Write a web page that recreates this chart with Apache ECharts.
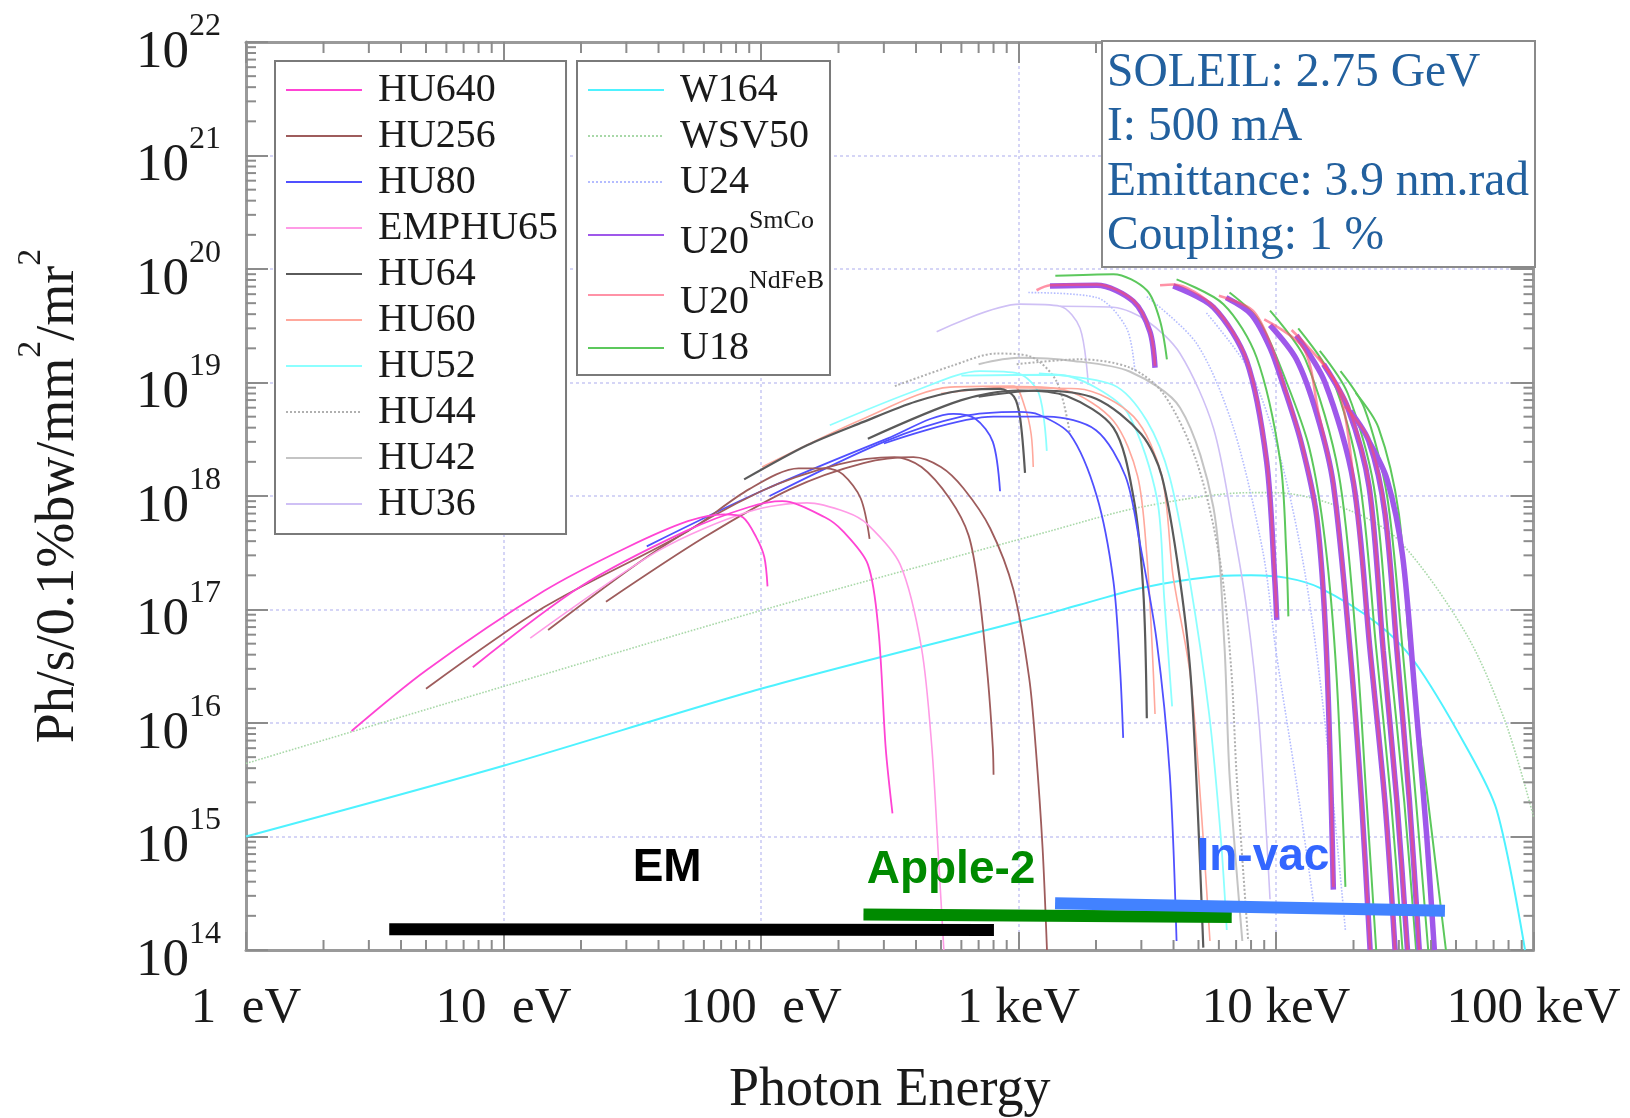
<!DOCTYPE html>
<html>
<head>
<meta charset="utf-8">
<title>SOLEIL insertion devices</title>
<script src="https://cdn.jsdelivr.net/npm/echarts@6.0.0/dist/echarts.min.js"></script>
<style>
html, body { margin: 0; padding: 0; background: #fff; }
#chart { width: 1630px; height: 1118px; }
</style>
</head>
<body>
<div id="chart"></div>
<script>
// photon energy (eV) vs brilliance (ph/s/0.1%bw/mm2/mr2), one list per harmonic
var hu640 = [
    [[2.57, 8.5e15], [5, 2.9e16], [14.4, 1.46e17], [30, 3.5e17], [52, 6.0e17], [72, 6.9e17], [85, 6.5e17], [96, 4.3e17], [103, 2.9e17], [106, 1.6e17]],
    [[7.6, 3.1e16], [20, 1.6e17], [51, 4.9e17], [90, 8.0e17], [121, 9.0e17], [177, 6.5e17], [208, 4.9e17], [260, 2.5e17], [286, 6.5e16], [305, 6e15], [324, 1.6e15]]
];
var emphu65 = [
    [[12.7, 5.6e16], [40, 3.3e17], [90, 7.3e17], [151, 8.7e17], [215, 7.2e17], [260, 5.6e17], [347, 2.5e17], [420, 4.6e16], [461, 6e15], [490, 6e14], [513, 1e14]]
];
var hu256 = [
    [[5.0, 2.0e16], [14.4, 1.05e17], [52, 4.9e17], [90, 1.15e18], [140, 1.75e18], [180, 1.75e18], [208, 1.55e18], [244, 9.5e17], [264, 4.2e17]],
    [[14.9, 6.6e16], [40, 3.4e17], [100, 1.1e18], [200, 1.9e18], [330, 2.2e18], [420, 1.8e18], [540, 9.5e17], [640, 4.5e17], [700, 1.5e17], [760, 2.5e16], [795, 6e15], [800, 3.5e15]],
    [[25, 1.17e17], [60, 4.3e17], [130, 1.15e18], [250, 1.95e18], [391, 2.2e18], [500, 1.8e18], [611, 1.17e18], [776, 5.2e17], [955, 1.5e17], [1100, 2.5e16], [1167, 6e15], [1240, 8e14], [1290, 1e14]]
];
var hu80 = [
    [[36, 3.6e17], [100, 1.1e18], [309, 3.2e18], [558, 5.3e18], [680, 4.8e18], [795, 3.0e18], [848, 1.1e18]],
    [[108, 1.0e18], [300, 3.0e18], [600, 5.0e18], [1000, 5.5e18], [1200, 5.2e18], [1585, 3.5e18], [2013, 1.0e18], [2335, 1.8e17], [2480, 3e16], [2550, 7.4e15]],
    [[300, 2.9e18], [800, 5.0e18], [1300, 5.0e18], [2000, 3.8e18], [2600, 1.5e18], [2950, 4e17], [3440, 5.3e16], [3870, 3.5e15], [4110, 1.2e14]]
];
var hu64 = [
    [[86, 1.4e18], [151, 2.8e18], [250, 4.5e18], [400, 6.8e18], [600, 8.5e18], [850, 8.8e18], [960, 7.5e18], [1014, 4.9e18], [1060, 1.6e18]],
    [[260, 3.2e18], [600, 7.0e18], [1000, 8.5e18], [1538, 7.6e18], [2335, 4.0e18], [2790, 1.0e18], [3050, 1.5e17], [3150, 1.1e16]],
    [[700, 7.5e18], [1200, 8.5e18], [2000, 7.2e18], [3000, 3.5e18], [3600, 1.5e18], [4240, 1.8e17], [4700, 2e16], [5220, 1.05e14]]
];
var hu60 = [
    [[101, 1.8e18], [250, 4.8e18], [542, 9.1e18], [955, 9.3e18], [1060, 6.0e18], [1120, 3.5e18], [1141, 1.8e18]],
    [[500, 8.0e18], [1000, 9.2e18], [1538, 8.5e18], [2335, 4.6e18], [2900, 1.5e18], [3150, 3e17], [3300, 5e16], [3390, 1.2e16]],
    [[800, 9.0e18], [1700, 8.8e18], [2800, 5.0e18], [3600, 1.5e18], [3980, 2.0e17], [4640, 2.7e16], [5100, 2e15], [5540, 1.2e14]]
];
var hu52 = [
    [[185, 4.2e18], [400, 8.5e18], [708, 1.26e19], [1000, 1.2e19], [1200, 8e18], [1288, 2.5e18]],
    [[600, 1.15e19], [1410, 1.17e19], [2000, 9e18], [2680, 5.2e18], [3450, 9.5e17], [3680, 1.26e17], [3950, 1.4e16]],
    [[1200, 1.2e19], [2335, 9.5e18], [3150, 4.6e18], [3870, 1.45e18], [4630, 1.78e17], [5500, 1.2e16], [6100, 1e15], [6440, 1.5e14]]
];
var hu44 = [
    [[331, 9.3e18], [550, 1.4e19], [822, 1.8e19], [1108, 1.7e19], [1406, 1.02e19], [1585, 3.5e18]],
    [[984, 1.45e19], [1734, 1.6e19], [2710, 1.35e19], [3650, 8e18], [4920, 2.0e18], [6060, 2.7e17], [6700, 3e16], [7030, 3.5e15], [7800, 1.2e14]]
];
var hu42 = [
    [[700, 1.45e19], [1000, 1.65e19], [1633, 1.55e19], [2700, 1.25e19], [4240, 6.0e18], [5710, 8e17], [6300, 5e16], [6600, 3.5e15], [7400, 1.2e14]]
];
var hu36 = [
    [[481, 2.8e19], [1014, 4.9e19], [1450, 4.7e19], [1734, 3.0e19], [1867, 9.5e18]],
    [[1450, 4.7e19], [2335, 4.6e19], [3150, 3.5e19], [4240, 1.8e19], [5710, 4e18], [6830, 5.2e17], [7700, 1.0e17], [8600, 1.0e16], [9480, 2.8e14]]
];
var w164 = [
    [[1, 1.0e15], [10, 4.2e15], [100, 2.0e16], [1000, 7.8e16], [1730, 1.1e17], [3000, 1.55e17], [5710, 1.95e17], [8000, 2.0e17], [11000, 1.9e17], [14800, 1.55e17], [24600, 7.6e16], [34400, 3.5e16], [54500, 6.3e15], [72000, 1.7e15], [92700, 1e14]]
];
var wsv50 = [
    [[1, 4.4e15], [10, 2.1e16], [100, 9.8e16], [1320, 4.9e17], [3000, 8e17], [7900, 1.07e18], [10000, 1.07e18], [19500, 7.4e17], [30200, 4e17], [55000, 6e16], [78000, 1.0e16], [100000, 1.5e15]]
];
var u24 = [
    [[1092, 6.2e19], [2013, 5.6e19], [2630, 3.0e19], [2830, 1.26e19]],
    [[3150, 5.7e19], [4920, 2.2e19], [6830, 4e18], [8900, 3.2e17], [10000, 4.3e16], [12000, 3e15], [13960, 2.7e14]],
    [[5370, 4.1e19], [8000, 1.2e19], [10500, 2e18], [13000, 2e17], [15500, 1e16], [18600, 1.5e14]]
];
var u20SmCo = [
    [[1325, 7.1e19], [2013, 7.2e19], [2790, 5.2e19], [3240, 2.8e19], [3390, 1.35e19]],
    [[3990, 7.1e19], [5710, 4.6e19], [7690, 1.55e19], [9200, 2.0e18], [9900, 1.78e17], [10070, 8.1e16]],
    [[6400, 5.6e19], [8000, 4.0e19], [9500, 2.0e19], [10670, 9.5e18], [12500, 3.0e18], [14400, 6.5e17], [15700, 4.3e16], [16700, 3.4e14]],
    [[9480, 3.2e19], [12000, 1.6e19], [14500, 5e18], [16700, 1.26e18], [19400, 4.3e16], [21500, 2e15], [23200, 1e14]],
    [[12000, 2.6e19], [15500, 1.0e19], [20000, 1.3e18], [23200, 4.3e16], [26500, 2e15], [29000, 1e14]],
    [[15300, 1.45e19], [19000, 6e18], [23000, 1.2e18], [26100, 4.3e16], [29500, 2e15], [32400, 1e14]],
    [[19400, 5.6e18], [23000, 3e18], [26500, 7e17], [29500, 4.3e16], [33000, 2e15], [36000, 1e14]],
    [[23000, 3.0e18], [27000, 1.4e18], [31000, 3e17], [34500, 2e16], [38500, 1e15], [41200, 1e14]]
];
var u20NdFeB = [
    [[1175, 6.5e19], [1325, 7.2e19], [2013, 7.3e19], [2790, 5.3e19], [3240, 2.85e19], [3390, 1.4e19]],
    [[3545, 7.2e19], [3990, 7.3e19], [5710, 4.7e19], [7690, 1.6e19], [9200, 2.1e18], [9900, 1.85e17], [10070, 8.5e16]],
    [[6000, 5.8e19], [8130, 4.3e19], [9600, 2.1e19], [10670, 1.0e19], [12500, 3.1e18], [14400, 6.7e17], [15700, 4.5e16], [16700, 3.6e14]],
    [[9000, 3.6e19], [12800, 2.0e19], [14600, 5.5e18], [16700, 1.3e18], [19400, 4.5e16], [21500, 2e15], [23200, 1e14]],
    [[11500, 2.9e19], [17200, 9.5e18], [20000, 1.4e18], [23200, 4.5e16], [26500, 2e15], [29000, 1e14]],
    [[14600, 1.7e19], [19000, 6.3e18], [23000, 1.25e18], [26100, 4.5e16], [29500, 2e15], [32400, 1e14]],
    [[18500, 6.2e18], [23000, 3.1e18], [26500, 7.3e17], [29500, 4.5e16], [33000, 2e15], [36000, 1e14]]
];
var u18 = [
    [[1390, 8.7e19], [2335, 9.0e19], [3150, 6.5e19], [3545, 3.5e19], [3770, 1.6e19]],
    [[4110, 8.1e19], [6250, 4.9e19], [8410, 1.66e19], [10400, 2.0e18], [10960, 3.2e17], [11170, 8.7e16]],
    [[6600, 6.2e19], [8600, 3.5e19], [11000, 1.0e19], [13500, 2.6e18], [15500, 4e17], [17200, 2.5e16], [18600, 3.6e14]],
    [[9480, 4.3e19], [13000, 1.6e19], [17500, 1.6e18], [20500, 5e16], [22500, 2e15], [24500, 1e14]],
    [[12200, 3.0e19], [16500, 1.1e19], [21000, 1.5e18], [24500, 4.5e16], [28000, 2e15], [31000, 1e14]],
    [[14800, 1.9e19], [19000, 8e18], [24000, 1.2e18], [27500, 4.5e16], [31500, 2e15], [35000, 1e14]],
    [[17800, 1.26e19], [22000, 6e18], [27000, 1e18], [31000, 4.5e16], [35000, 2e15], [39000, 1e14]],
    [[20400, 8.1e18], [25000, 4e18], [30000, 7e17], [33100, 4.3e16], [39000, 2e15], [45700, 1e14]]
];

// operating ranges of the three families of insertion devices
var emRange = [[3.6, 1.52e14], [803, 1.5e14]];
var appleRange = [[250, 2.05e14], [6730, 1.95e14]];
var invacRange = [[1387, 2.58e14], [45300, 2.22e14]];
var rangeNames = ['EM', 'Apple-2', 'In-vac'];
var rangeNameAt = [[43.2, 5.2e14], [547, 5.0e14], [8900, 6.5e14]];

var xTickText = ['1  eV', '10  eV', '100  eV', '1 keV', '10 keV', '100 keV'];
var legendLeft = ['HU640', 'HU256', 'HU80', 'EMPHU65', 'HU64', 'HU60', 'HU52', 'HU44', 'HU42', 'HU36'];
var legendRight = ['W164', 'WSV50', 'U24', 'U20 SmCo', 'U20 NdFeB', 'U18'];
var infoLines = ['SOLEIL: 2.75 GeV', 'I: 500 mA', 'Emittance: 3.9 nm.rad', 'Coupling: 1 %'];

var serif = '"Liberation Serif", "DejaVu Serif", serif';
var sans = '"Liberation Sans", Arial, sans-serif';

var devices = {
    'WSV50': {data: wsv50, color: '#a8d8a8', width: 1.6, type: 'dotted'},
    'W164': {data: w164, color: '#4ef2ff', width: 2},
    'HU36': {data: hu36, color: '#cfc0f5', width: 1.6},
    'U24': {data: u24, color: '#b4bcff', width: 1.6, type: 'dotted'},
    'HU42': {data: hu42, color: '#c4c4c4', width: 2},
    'HU44': {data: hu44, color: '#b0b0b0', width: 2, type: 'dotted'},
    'HU52': {data: hu52, color: '#8cffff', width: 1.8},
    'HU60': {data: hu60, color: '#ffa89c', width: 1.6},
    'HU64': {data: hu64, color: '#5a5a5a', width: 2.2},
    'HU80': {data: hu80, color: '#5050ff', width: 1.8},
    'HU256': {data: hu256, color: '#9e5c5c', width: 1.8},
    'EMPHU65': {data: emphu65, color: '#ff9be6', width: 1.6},
    'HU640': {data: hu640, color: '#ff44d4', width: 1.8},
    'U18': {data: u18, color: '#5cc85c', width: 2},
    'U20 SmCo': {data: u20SmCo, color: '#9f58ea', width: 5.5},
    'U20 NdFeB': {data: u20NdFeB, color: '#ff4a6a', width: 2.6, opacity: 0.6}
};
var drawOrder = ['WSV50', 'W164', 'HU36', 'U24', 'HU42', 'HU44', 'HU52', 'HU60', 'HU64', 'HU80', 'HU256', 'EMPHU65', 'HU640', 'U18', 'U20 SmCo', 'U20 NdFeB'];

var series = [];
drawOrder.forEach(function (name) {
    var d = devices[name];
    d.data.forEach(function (curve) {
        series.push({
            name: name,
            type: 'line',
            data: curve,
            symbol: 'none',
            smooth: 0.3,
            silent: true,
            lineStyle: {color: d.color, width: d.width, type: d.type || 'solid', opacity: d.opacity || 1},
            itemStyle: {color: d.color}
        });
    });
});

function rangeBar(data, color) {
    return {
        type: 'line', data: data, symbol: 'none', silent: true, z: 5,
        lineStyle: {color: color, width: 12, cap: 'butt'}
    };
}
series.push(rangeBar(emRange, '#000000'));
series.push(rangeBar(appleRange, '#008a00'));
series.push(rangeBar(invacRange, '#4282ff'));

var rangeColors = ['#000000', '#008a00', '#3366ff'];
rangeNames.forEach(function (txt, i) {
    series.push({
        type: 'scatter', silent: true, symbolSize: 0, z: 6,
        data: [rangeNameAt[i]],
        itemStyle: {color: rangeColors[i], opacity: 1},
        label: {
            show: true, position: 'inside', formatter: txt, opacity: 1,
            fontFamily: sans, fontWeight: 'bold', fontSize: 46, color: rangeColors[i],
            textBorderWidth: 0, textBorderColor: 'transparent'
        }
    });
});

// minor log ticks on the four sides of the frame
var minorX = [], minorY = [];
for (var k = 0; k < 5; k++) {
    for (var m = 2; m < 10; m++) minorX.push(m * Math.pow(10, k));
}
for (var j = 14; j < 22; j++) {
    for (var n = 2; n < 10; n++) minorY.push(n * Math.pow(10, j));
}
function minorTicks(values, isX) {
    return {
        type: 'custom', silent: true, clip: false, z: 4,
        data: values.map(function (v) { return isX ? [v, 1e14] : [1, v]; }),
        renderItem: function (params, api) {
            var v = api.value(isX ? 0 : 1);
            var a, b, segs;
            if (isX) {
                a = api.coord([v, 1e14]);
                b = api.coord([v, 1e22]);
                segs = [[a[0], a[1], a[0], a[1] - 10], [b[0], b[1], b[0], b[1] + 11]];
            } else {
                a = api.coord([1, v]);
                b = api.coord([1e5, v]);
                segs = [[a[0], a[1], a[0] + 10, a[1]], [b[0], b[1], b[0] - 10, b[1]]];
            }
            return {
                type: 'group',
                children: segs.map(function (s) {
                    return {type: 'line', shape: {x1: s[0], y1: s[1], x2: s[2], y2: s[3]},
                        style: {stroke: '#8c8c8c', lineWidth: 2}};
                })
            };
        }
    };
}
series.push(minorTicks(minorX, true));
series.push(minorTicks(minorY, false));

var frameLine = {show: true, onZero: false, lineStyle: {color: '#9a9a9a', width: 3}};
var gridLine = {show: true, lineStyle: {color: '#c8c8f4', type: [3, 3], width: 1.5}};

var legendBase = {
    orient: 'vertical', top: 61,
    itemWidth: 76, itemHeight: 2, itemGap: 6,
    itemStyle: {opacity: 0},
    borderColor: '#7a7a7a', borderWidth: 2, backgroundColor: '#ffffff',
    selectedMode: false
};

var option = {
    animation: false,
    backgroundColor: '#ffffff',
    grid: {left: 246, right: 96.5, top: 42, bottom: 168, outerBoundsMode: 'none'},
    title: {
        text: infoLines.join('\n'),
        left: 1102, top: 41,
        padding: [5, 6, 3, 5],
        borderColor: '#8a8a8a', borderWidth: 2, backgroundColor: '#ffffff',
        textStyle: {fontFamily: serif, fontSize: 47.5, fontWeight: 'normal', color: '#22609e', lineHeight: 54.5}
    },
    legend: [echarts.util.merge({
        data: legendLeft,
        left: 275,
        padding: [9, 8, 10, 10],
        textStyle: {fontFamily: serif, fontSize: 40, color: '#1a1a1a', padding: [0, 0, 0, 11]}
    }, legendBase), echarts.util.merge({
        data: legendRight,
        left: 577,
        padding: [9, 6, 7, 10],
        formatter: function (name) {
            var p = name.split(' ');
            return p.length > 1 ? '{a|' + p[0] + '}{s|' + p[1] + '}' : name;
        },
        textStyle: {
            fontFamily: serif, fontSize: 40, color: '#1a1a1a', padding: [0, 0, 0, 11],
            rich: {
                a: {fontFamily: serif, fontSize: 40, color: '#1a1a1a', verticalAlign: 'bottom', padding: [14, 0, 0, 0]},
                s: {fontFamily: serif, fontSize: 26, color: '#1a1a1a', verticalAlign: 'top'}
            }
        }
    }, legendBase)],
    xAxis: [{
        type: 'log', logBase: 10, min: 1, max: 100000, splitNumber: 5,
        axisLine: frameLine,
        axisTick: {inside: true, length: 18, lineStyle: {color: '#8c8c8c', width: 2}},
        axisLabel: {
            margin: 33, fontFamily: serif, fontSize: 51, color: '#1a1a1a',
            formatter: function (v) { return xTickText[Math.round(Math.log10(v))]; }
        },
        splitLine: gridLine,
        name: 'Photon Energy', nameLocation: 'middle', nameGap: 114,
        nameTextStyle: {fontFamily: serif, fontSize: 54, color: '#1a1a1a'}
    }, {
        type: 'log', logBase: 10, min: 1, max: 100000, splitNumber: 5, position: 'top',
        axisLine: frameLine,
        axisTick: {inside: true, length: 21, lineStyle: {color: '#8c8c8c', width: 2}},
        axisLabel: {show: false}, splitLine: {show: false}
    }],
    yAxis: [{
        type: 'log', logBase: 10, min: 1e14, max: 1e22, splitNumber: 8,
        axisLine: frameLine,
        axisTick: {inside: true, length: 22, lineStyle: {color: '#8c8c8c', width: 2}},
        axisLabel: {
            margin: 25,
            formatter: function (v) { return '{a|10}{b|' + Math.round(Math.log10(v)) + '}'; },
            rich: {
                a: {fontFamily: serif, fontSize: 53, color: '#1a1a1a', verticalAlign: 'bottom', padding: [22, 0, 0, 0]},
                b: {fontFamily: serif, fontSize: 32, color: '#1a1a1a', verticalAlign: 'top', padding: [6, 0, 0, 0]}
            }
        },
        splitLine: gridLine,
        name: '{n|Ph/s/0.1%bw/mm}{s|2}{n|/mr}{s|2}',
        nameLocation: 'middle', nameGap: 160, nameRotate: 90,
        nameTextStyle: {
            rich: {
                n: {fontFamily: serif, fontSize: 54, color: '#1a1a1a', verticalAlign: 'bottom', padding: [18, 0, 0, 0]},
                s: {fontFamily: serif, fontSize: 34, color: '#1a1a1a', verticalAlign: 'top'}
            }
        }
    }, {
        type: 'log', logBase: 10, min: 1e14, max: 1e22, splitNumber: 8, position: 'right',
        axisLine: frameLine,
        axisTick: {inside: true, length: 23, lineStyle: {color: '#8c8c8c', width: 2}},
        axisLabel: {show: false}, splitLine: {show: false}
    }],
    series: series
};

var chart = echarts.init(document.getElementById('chart'));
chart.setOption(option);
</script>
</body>
</html>
